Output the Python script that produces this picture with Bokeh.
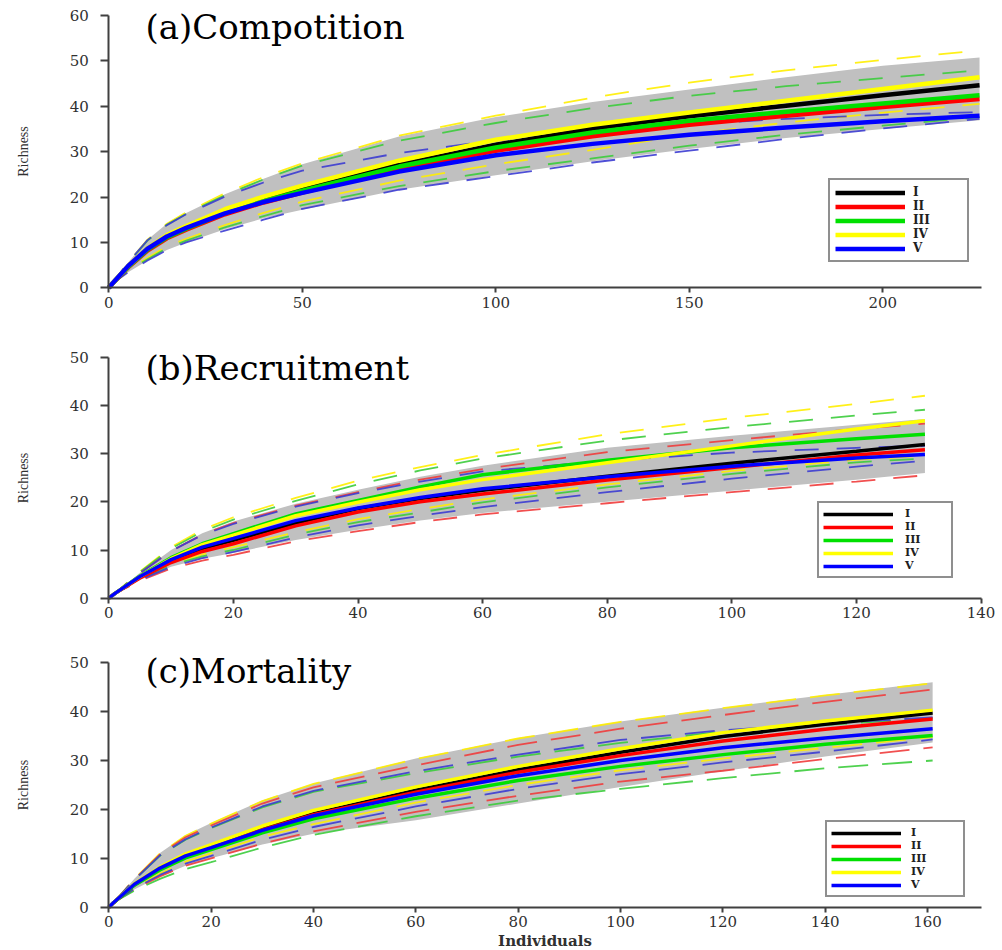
from bokeh.plotting import figure
from bokeh.models import Range1d, FixedTicker, Legend, LegendItem, Label
from bokeh.layouts import column
from bokeh.embed import file_html
from bokeh.resources import INLINE

# ---------------- data ----------------
series_names = ["I", "II", "III", "IV", "V"]

# (a) Compotition
xa = [0, 1, 5, 10, 15, 20, 30, 40, 50, 75, 100, 125, 150, 175, 200, 225]
a_I = [0, 1, 4.7, 8.5, 11.2, 13.2, 16.8, 19.4, 21.6, 27.1, 31.5, 35.1, 37.8, 40.1, 42.4, 44.6]
a_II = [0, 1, 4.5, 8.2, 10.9, 12.8, 16.2, 18.8, 21.0, 26.2, 30.2, 33.4, 35.9, 37.9, 39.8, 41.6]
a_III = [0, 1, 4.6, 8.4, 11.1, 13.0, 16.5, 19.1, 21.4, 26.7, 30.9, 34.2, 36.8, 38.8, 40.6, 42.4]
a_IV = [0, 1, 4.8, 8.7, 11.6, 13.6, 17.3, 20.1, 22.5, 28.0, 32.6, 35.9, 38.6, 41.2, 43.8, 46.4]
a_V = [0, 1, 4.8, 8.6, 11.3, 13.2, 16.4, 18.9, 20.9, 25.6, 29.2, 31.7, 33.7, 35.3, 36.7, 37.9]
a_IV_hi = [0, 1, 5.6, 10.6, 14.1, 16.6, 20.8, 24.4, 27.4, 33.5, 37.9, 41.9, 45.2, 47.9, 50.2, 52.3]
a_III_hi = [0, 1, 5.5, 10.4, 13.9, 16.3, 20.4, 23.9, 26.9, 32.4, 36.3, 39.6, 42.3, 44.4, 46.2, 47.9]
a_V_hi = [0, 1, 5.6, 10.5, 13.8, 16.2, 20.1, 23.2, 25.8, 29.7, 32.5, 34.4, 36.0, 37.2, 38.1, 38.7]
a_IV_lo = [0, 1, 3.9, 6.6, 9.1, 10.8, 13.8, 16.5, 19.0, 23.6, 27.2, 30.4, 33.8, 36.4, 38.6, 40.5]
a_III_lo = [0, 1, 3.7, 6.3, 8.7, 10.4, 13.3, 15.8, 18.2, 22.4, 25.7, 28.5, 31.3, 33.7, 35.7, 37.6]
a_V_lo = [0, 1, 3.4, 6.0, 8.3, 10.0, 12.6, 15.0, 17.4, 21.6, 24.6, 27.6, 30.2, 32.8, 35.1, 37.2]
a_band_hi = [0, 1, 5.6, 10.6, 14.1, 16.5, 20.6, 24.0, 27.2, 33.3, 37.6, 40.9, 43.7, 46.4, 48.9, 50.7]
a_band_lo = [0, 1, 3.4, 6.0, 8.3, 10.0, 12.9, 15.3, 17.2, 21.6, 24.8, 27.9, 30.6, 33.0, 35.0, 36.9]

# (b) Recruitment
xb = [0, 1, 5, 10, 15, 20, 30, 40, 50, 60, 80, 100, 120, 131]
b_I = [0, 1, 4.4, 7.8, 10.3, 12.0, 15.6, 18.6, 20.7, 22.4, 25.3, 28.0, 30.5, 31.9]
b_II = [0, 1, 4.2, 7.4, 9.7, 11.3, 15.0, 17.9, 20.0, 21.6, 24.5, 27.1, 29.7, 30.8]
b_III = [0, 1, 4.6, 8.4, 11.3, 13.4, 17.5, 20.3, 23.1, 25.6, 28.6, 31.2, 33.1, 34.0]
b_IV = [0, 1, 4.5, 8.2, 11.1, 13.1, 17.1, 19.9, 22.5, 24.6, 28.1, 31.6, 35.1, 36.8]
b_V = [0, 1, 4.5, 8.0, 10.6, 12.4, 16.1, 18.7, 20.9, 22.7, 25.2, 27.4, 29.1, 29.8]
b_IV_hi = [0, 1, 5.5, 10.6, 14.2, 16.8, 20.8, 24.4, 27.2, 29.7, 34.0, 37.4, 40.3, 42.0]
b_III_hi = [0, 1, 5.4, 10.3, 13.8, 16.3, 20.2, 23.6, 26.5, 29.0, 32.7, 35.5, 37.9, 39.1]
b_II_hi = [0, 1, 5.2, 9.8, 13.2, 15.6, 19.2, 22.0, 24.6, 26.8, 30.3, 32.8, 35.1, 36.2]
b_V_hi = [0, 1, 5.2, 9.8, 13.1, 15.4, 19.0, 21.8, 24.2, 26.3, 28.5, 30.2, 31.2, 31.6]
b_IV_lo = [0, 1, 4.0, 7.1, 9.1, 10.6, 13.7, 16.4, 18.5, 20.5, 23.6, 26.4, 28.7, 29.6]
b_III_lo = [0, 1, 3.9, 6.8, 8.7, 10.0, 13.2, 15.8, 17.8, 19.9, 23.0, 25.8, 28.2, 29.0]
b_V_lo = [0, 1, 3.8, 6.5, 8.3, 9.6, 12.6, 15.1, 17.1, 18.9, 22.0, 24.8, 27.3, 28.5]
b_II_lo = [0, 1, 3.6, 6.2, 7.8, 9.0, 11.8, 13.9, 15.8, 17.4, 19.7, 22.0, 24.2, 25.5]
b_band_hi = [0, 1, 5.3, 10.0, 13.5, 15.9, 19.6, 22.5, 25.2, 27.5, 31.2, 33.7, 36.0, 37.2]
b_band_lo = [0, 1, 3.8, 6.5, 8.2, 9.4, 12.1, 14.2, 16.1, 17.7, 20.0, 22.3, 24.6, 26.0]

# (c) Mortality
xc = [0, 1, 5, 10, 15, 20, 30, 40, 60, 80, 100, 120, 140, 161]
c_I = [0, 1, 4.6, 7.9, 10.5, 12.3, 16.0, 19.1, 23.9, 28.1, 31.7, 34.9, 37.4, 39.7]
c_II = [0, 1, 4.6, 7.9, 10.4, 12.2, 15.8, 18.9, 23.5, 27.6, 31.0, 34.0, 36.4, 38.5]
c_III = [0, 1, 4.5, 7.6, 10.1, 11.8, 15.2, 18.1, 22.3, 25.9, 28.8, 31.2, 33.3, 35.1]
c_IV = [0, 1, 4.8, 8.2, 10.9, 12.8, 16.6, 19.8, 24.6, 28.8, 32.4, 35.7, 38.1, 40.3]
c_V = [0, 1, 4.7, 8.0, 10.5, 12.2, 15.7, 18.7, 23.1, 26.9, 30.0, 32.6, 34.6, 36.5]
c_IV_hi = [0, 1, 5.8, 11.0, 14.6, 17.1, 21.7, 25.2, 30.3, 34.5, 37.9, 40.7, 43.3, 45.8]
c_II_hi = [0, 1, 5.7, 10.8, 14.3, 16.7, 21.2, 24.5, 29.0, 33.2, 36.5, 39.3, 42.0, 44.5]
c_III_hi = [0, 1, 5.6, 10.5, 13.8, 16.2, 20.4, 23.6, 27.4, 30.8, 33.6, 35.9, 37.3, 38.6]
c_V_hi = [0, 1, 5.6, 10.6, 13.9, 16.3, 20.6, 23.8, 27.8, 31.2, 34.2, 36.2, 37.6, 38.8]
c_IV_lo = [0, 1, 3.9, 6.9, 9.3, 11.0, 14.4, 17.0, 21.4, 25.0, 28.0, 30.4, 32.6, 34.8]
c_V_lo = [0, 1, 3.8, 6.6, 8.9, 10.5, 13.8, 16.4, 20.6, 24.2, 27.2, 29.6, 31.8, 34.3]
c_II_lo = [0, 1, 3.6, 6.3, 8.5, 10.0, 13.0, 15.5, 19.5, 22.8, 25.7, 27.9, 30.3, 32.7]
c_III_lo = [0, 1, 3.4, 5.8, 7.8, 9.2, 12.2, 14.8, 18.6, 21.8, 24.2, 26.4, 28.4, 30.0]
c_band_hi = [0, 1, 5.8, 11.1, 14.7, 17.2, 21.8, 25.3, 30.4, 34.6, 38.0, 40.8, 43.4, 46.0]
c_band_lo = [0, 1, 3.6, 6.3, 8.5, 10.0, 12.8, 15.0, 17.8, 21.2, 24.6, 27.8, 30.8, 33.7]

xticks_a = [0, 50, 100, 150, 200]
xticks_b = [0, 20, 40, 60, 80, 100, 120, 140]
xticks_c = [0, 20, 40, 60, 80, 100, 120, 140, 160]
yticks_a = [0, 10, 20, 30, 40, 50, 60]
yticks_bc = [0, 10, 20, 30, 40, 50]

# ---------------- styling ----------------
SOLID = {"I": "#000000", "II": "#ff0000", "III": "#00e000", "IV": "#ffff00", "V": "#0000ff"}
DASHC = {"II": "#f03c3c", "III": "#3ccc3c", "IV": "#ffee00", "V": "#3c3cd2"}
SERIF = "DejaVu Serif"
AXC = "#404040"
W = 1002
X0_PX = 108.3   # pixel position of x = 0 in every panel


def make_panel(x, solids, dashed, band, xend, xscale, ytop, zero_px, yscale,
               xticks, yticks, height, title, title_y, leg_loc, leg_pad, leg_row,
               leg_font, leg_standoff, leg_lw, lw, dash, xlabel=None):
    # the frame covers the whole figure; the axes are pinned at x=0 / y=0
    xmin = -X0_PX / xscale
    xmax = (W - X0_PX) / xscale
    ymax = zero_px / yscale
    ymin = -(height - zero_px) / yscale
    p = figure(width=W, height=height, title=None,
               x_range=Range1d(xmin, xmax), y_range=Range1d(ymin, ymax),
               output_backend="svg", toolbar_location=None,
               min_border_left=0, min_border_right=0,
               min_border_top=0, min_border_bottom=0)
    p.outline_line_color = None
    p.grid.visible = False
    p.background_fill_color = "white"
    p.border_fill_color = "white"

    p.varea(x=x, y1=band[0], y2=band[1], fill_color="#c0c0c0", fill_alpha=1.0)
    for name, (hi, lo) in dashed.items():
        for arr in (hi, lo):
            p.line(x, arr, line_color=DASHC[name], line_width=1.8,
                   line_dash=dash, line_alpha=0.9)
    rends = []
    for name in series_names:
        r = p.line(x, solids[name], line_color=SOLID[name], line_width=lw)
        rends.append(r)

    for ax in (p.xaxis[0], p.yaxis[0]):
        ax.axis_line_color = AXC
        ax.axis_line_width = 2
        ax.major_tick_line_color = AXC
        ax.major_tick_line_width = 2
        ax.major_tick_in = 0
        ax.minor_tick_in = 0
        ax.minor_tick_out = 0
        ax.major_label_text_font = SERIF
        ax.major_label_text_font_size = "15px"
        ax.major_label_text_color = "#303030"
        ax.fixed_location = 0
    xa_ = p.xaxis[0]
    ya_ = p.yaxis[0]
    xa_.ticker = FixedTicker(ticks=xticks)
    ya_.ticker = FixedTicker(ticks=yticks)
    xa_.bounds = (0, xend)
    ya_.bounds = (0, ytop)
    xa_.major_tick_out = 5
    xa_.major_label_standoff = 4
    ya_.major_tick_out = 8
    ya_.major_label_standoff = 12
    ya_.axis_label = "Richness"
    ya_.axis_label_text_font = "Liberation Serif"
    ya_.axis_label_text_font_style = "normal"
    ya_.axis_label_text_font_size = "14px"
    ya_.axis_label_text_color = "#303030"
    ya_.axis_label_standoff = 35
    if xlabel:
        xa_.axis_label = xlabel
        xa_.axis_label_text_font = SERIF
        xa_.axis_label_text_font_style = "bold"
        xa_.axis_label_text_font_size = "15px"
        xa_.axis_label_text_color = "#303030"
        xa_.axis_label_standoff = 1

    p.add_layout(Label(x=145, y=title_y, x_units="screen", y_units="screen",
                       text=title, text_font=SERIF, text_font_size="34px",
                       text_baseline="middle", text_color="black"))

    leg = Legend(items=[LegendItem(label=n, renderers=[r]) for n, r in zip(series_names, rends)],
                 location=leg_loc, margin=0, padding=leg_pad, spacing=0,
                 glyph_width=70, glyph_height=leg_row, label_height=leg_row,
                 label_width=leg_lw, label_standoff=leg_standoff,
                 label_text_font=SERIF, label_text_font_style="bold",
                 label_text_font_size=leg_font, label_text_color="#202020",
                 border_line_color="#202020", border_line_width=2,
                 background_fill_color="white", background_fill_alpha=1.0)
    p.add_layout(leg)
    return p


# panel (a): figure 0..318 px, y=0 at 287.3 px, 4.54 px per unit, 3.87 px per individual
pa = make_panel(xa, {"I": a_I, "II": a_II, "III": a_III, "IV": a_IV, "V": a_V},
                {"IV": (a_IV_hi, a_IV_lo), "III": (a_III_hi, a_III_lo), "V": (a_V_hi, a_V_lo)},
                (a_band_lo, a_band_hi), 225.5, 3.87, 60, 287.3, 4.54, xticks_a, yticks_a,
                318, "(a)Compotition", 292, (828, 56), 5, 13, "12px", 8, 49, 4.5, "24 18")
# panel (b): figure 318..626 px, y=0 at 597.7 px, 4.82 px per unit, 6.23 px per individual
pb = make_panel(xb, {"I": b_I, "II": b_II, "III": b_III, "IV": b_IV, "V": b_V},
                {"IV": (b_IV_hi, b_IV_lo), "III": (b_III_hi, b_III_lo),
                 "II": (b_II_hi, b_II_lo), "V": (b_V_hi, b_V_lo)},
                (b_band_lo, b_band_hi), 140, 6.23, 50, 279.7, 4.82, xticks_b, yticks_bc,
                308, "(b)Recruitment", 259, (817, 48), 4, 12, "11px", 12, 42, 3.5, "24 18")
# panel (c): figure 626..950 px, y=0 at 906.7 px, 4.89 px per unit, 5.117 px per individual
pc = make_panel(xc, {"I": c_I, "II": c_II, "III": c_III, "IV": c_IV, "V": c_V},
                {"IV": (c_IV_hi, c_IV_lo), "II": (c_II_hi, c_II_lo),
                 "III": (c_III_hi, c_III_lo), "V": (c_V_hi, c_V_lo)},
                (c_band_lo, c_band_hi), 170.5, 5.117, 50, 280.7, 4.89, xticks_c, yticks_bc,
                324, "(c)Mortality", 280, (825, 53), 4, 12, "11px", 10, 48, 3.5, "30 14",
                xlabel="Individuals")

layout = column(pa, pb, pc, spacing=0)
open("out.html", "w").write(file_html(layout, INLINE))
